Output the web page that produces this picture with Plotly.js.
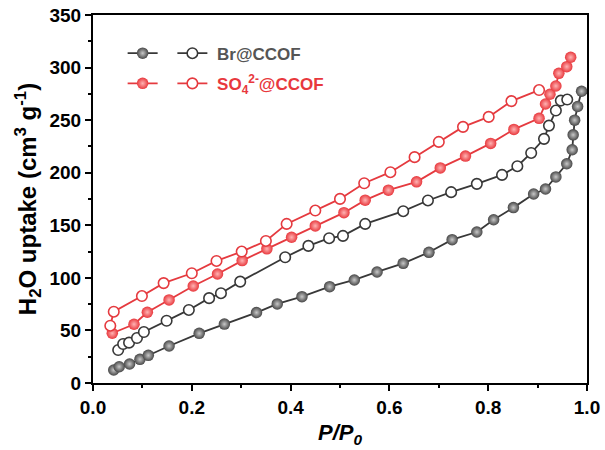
<!DOCTYPE html>
<html>
<head>
<meta charset="utf-8">
<script src="https://cdn.plot.ly/plotly-3.0.1.min.js"></script>
<style>
html,body{margin:0;padding:0;background:#fff;}
#chart{width:605px;height:450px;}
</style>
</head>
<body>
<div id="chart"></div>
<script>
// Br@CCOF adsorption (filled)
const brAdsX = [0.042,0.053,0.074,0.095,0.112,0.154,0.215,0.266,0.331,0.373,0.423,0.479,0.529,0.575,0.628,0.680,0.727,0.777,0.811,0.851,0.892,0.916,0.937,0.959,0.970,0.972,0.975,0.981,0.989];
const brAdsY = [12.4,15.5,18.1,22.5,26.3,35.2,47.2,56.0,67.0,75.2,82.1,91.6,98.0,105.6,113.8,124.3,136.3,143.6,155.3,166.8,179.8,184.5,196.0,208.5,221.8,236.0,250.0,263.0,277.5];
// Br@CCOF desorption (open)
const brDesX = [0.051,0.061,0.073,0.089,0.103,0.149,0.194,0.235,0.259,0.298,0.389,0.436,0.478,0.506,0.551,0.628,0.678,0.725,0.777,0.828,0.859,0.887,0.913,0.923,0.937,0.947,0.960];
const brDesY = [31.4,37.1,38.4,42.8,48.5,59.2,69.5,80.7,85.4,96.4,119.6,130.4,137.7,139.9,151.3,163.4,173.6,181.5,189.4,197.9,206.2,218.8,232.2,244.8,259.1,268.6,269.6];
// SO4@CCOF adsorption (filled)
const soAdsX = [0.039,0.083,0.110,0.154,0.203,0.252,0.302,0.352,0.402,0.450,0.508,0.551,0.598,0.655,0.703,0.754,0.805,0.852,0.903,0.916,0.925,0.937,0.943,0.959,0.967];
const soAdsY = [47.3,55.9,67.3,79.0,92.3,103.7,116.4,127.6,138.6,149.4,162.0,173.9,183.4,191.3,204.6,215.8,227.9,241.2,251.7,265.4,274.6,282.5,294.5,300.9,309.8];
// SO4@CCOF desorption (open)
const soDesX = [0.035,0.042,0.099,0.143,0.200,0.250,0.301,0.350,0.392,0.450,0.500,0.549,0.602,0.651,0.700,0.749,0.801,0.847,0.903];
const soDesY = [54.5,67.8,82.7,95.0,104.4,116.1,125.0,135.1,151.3,164.0,175.1,190.0,200.5,214.8,229.3,243.6,253.1,268.1,278.6];

const seriesNames = ['Br@CCOF', 'SO<sub>4</sub><sup>2-</sup>@CCOF'];

const GRAY = '#474747', GRAYL = '#383838', RED = '#e8383d', REDL = '#e53a3f';

function filled(x, y, col, lcol, grad, leg) {
  return {x, y, type:'scatter', mode:'lines+markers', name:'\u00a0', legend:leg,
    line:{color:lcol, width:1.8},
    marker:{size:11.5, color:col, line:{width:0}, gradient:{type:'radial', color:grad}}};
}
function open(x, y, lcol, name, leg) {
  return {x, y, type:'scatter', mode:'lines+markers', name:'\u00a0' + name, legend:leg,
    line:{color:lcol, width:1.8},
    marker:{size:10.5, color:'#ffffff', line:{width:1.6, color:lcol}}};
}

const data = [
  filled(brAdsX, brAdsY, GRAY, GRAYL, '#c8c8c8', 'legend'),
  open(brDesX, brDesY, GRAYL, seriesNames[0], 'legend'),
  filled(soAdsX, soAdsY, RED, REDL, '#ffb3b3', 'legend2'),
  open(soDesX, soDesY, REDL, seriesNames[1], 'legend2')
];

const FONT = 'Liberation Sans, Arial, sans-serif';
const axisCommon = {
  showgrid:false, zeroline:false, showline:true, linecolor:'#000', linewidth:2,
  mirror:true, ticks:'outside', ticklen:6, tickwidth:2, tickcolor:'#000',
  tickfont:{family:FONT, size:19, color:'#000', weight:'bold'}
};

const layout = {
  width:605, height:450,
  margin:{l:93, r:18, t:15, b:67},
  paper_bgcolor:'#fff', plot_bgcolor:'#fff',
  font:{family:FONT},
  xaxis:Object.assign({}, axisCommon, {
    range:[0,1], dtick:0.2, tick0:0, tickformat:'.1f',
    minor:{dtick:0.1, ticks:'outside', ticklen:3, tickwidth:2, tickcolor:'#000'},
    title:{text:'<i>P/P<sub>0</sub></i>', font:{family:FONT, size:22, color:'#000', weight:'bold'}, standoff:8}
  }),
  yaxis:Object.assign({}, axisCommon, {
    range:[0,350], dtick:50, tick0:0,
    minor:{dtick:25, ticks:'outside', ticklen:3, tickwidth:2, tickcolor:'#000'},
    title:{text:'H<sub>2</sub>O uptake (cm<sup>3</sup> g<sup>-1</sup>)', font:{family:FONT, size:24, color:'#000', weight:'bold'}, standoff:6}
  }),
  legend:{orientation:'h', x:0.06, xanchor:'left', y:0.895, yanchor:'middle',
    bgcolor:'rgba(0,0,0,0)', font:{family:FONT, size:17, color:'#555555', weight:'bold'},
    itemclick:false, tracegroupgap:0},
  legend2:{orientation:'h', x:0.06, xanchor:'left', y:0.813, yanchor:'middle',
    bgcolor:'rgba(0,0,0,0)', font:{family:FONT, size:17, color:RED, weight:'bold'},
    itemclick:false, tracegroupgap:0},
  showlegend:true
};

Plotly.newPlot('chart', data, layout, {displayModeBar:false, staticPlot:true});
</script>
</body>
</html>
